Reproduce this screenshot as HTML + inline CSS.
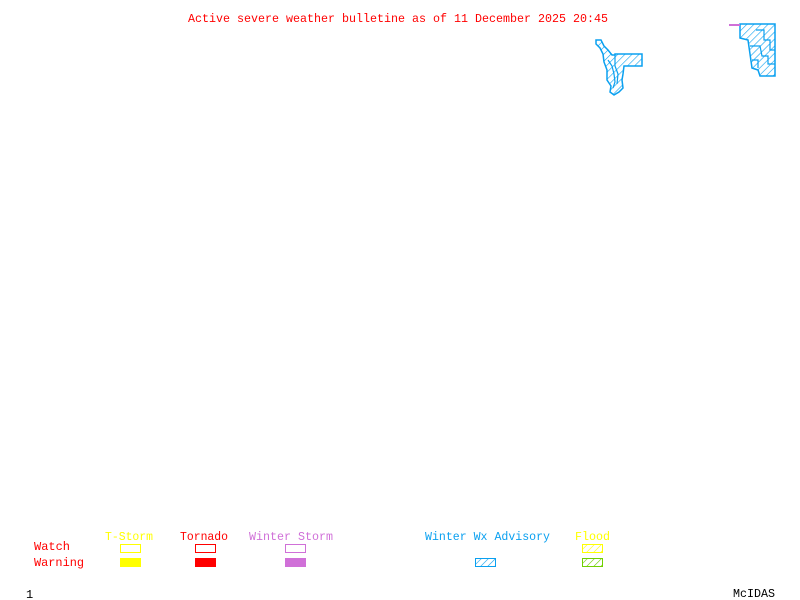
<!DOCTYPE html>
<html><head><meta charset="utf-8"><style>
html,body{margin:0;padding:0;background:#fff;width:800px;height:600px;overflow:hidden}
svg{display:block}
text{font-family:"Liberation Mono",monospace;font-size:12px}
</style></head><body>
<svg width="800" height="600" xmlns="http://www.w3.org/2000/svg">
<defs>
<pattern id="hb" width="5" height="5" patternUnits="userSpaceOnUse" patternTransform="rotate(45)"><rect width="5" height="5" fill="#fff"/><line x1="0" y1="0" x2="0" y2="5" stroke="#0aa0f0" stroke-width="1.2"/></pattern>
<pattern id="hy" width="5" height="5" patternUnits="userSpaceOnUse" patternTransform="rotate(45)"><rect width="5" height="5" fill="#fff"/><line x1="0" y1="0" x2="0" y2="5" stroke="#ffff00" stroke-width="1.2"/></pattern>
<pattern id="hg" width="5" height="5" patternUnits="userSpaceOnUse" patternTransform="rotate(45)"><rect width="5" height="5" fill="#fff"/><line x1="0" y1="0" x2="0" y2="5" stroke="#70d000" stroke-width="1.2"/></pattern>
</defs>
<text x="188" y="22" fill="#ff0000" textLength="420" lengthAdjust="spacingAndGlyphs">Active severe weather bulletine as of 11 December 2025 20:45</text>
<g fill="url(#hb)" stroke="#0aa0f0" stroke-width="1.5">
<polygon points="596,40 601,40 604,46 608,50 612,55 615,55 615,54 642,54 642,66 624,66 623,74 622,80 623,88 619,92 614,95 610,92 611,86 607,80 607,70 604,62 603,54 600,48 596,44"/>
<polygon points="740,24 775,24 775,76 760,76 758,70 752,68 750,54 748,40 740,38"/>
</g>
<g fill="none" stroke="#0aa0f0" stroke-width="1.2">
<path d="M608,60 L612,66 L614,74 L615,82 L613,88"/>
<path d="M615,55 L615,66 L618,74 L617,84"/>
<path d="M756,30 L764,30 L764,40 L770,40 L770,50 L775,50"/>
<path d="M750,46 L760,46 L762,56 L768,56 L768,64 L775,64"/>
<path d="M752,60 L758,60 L758,68"/>
</g>
<line x1="729" y1="25" x2="740" y2="25" stroke="#d070d8" stroke-width="2"/>
<text x="105" y="540" fill="#ffff00" textLength="48" lengthAdjust="spacingAndGlyphs">T-Storm</text>
<text x="180" y="540" fill="#ff0000" textLength="48" lengthAdjust="spacingAndGlyphs">Tornado</text>
<text x="249" y="540" fill="#d070d8" textLength="84" lengthAdjust="spacingAndGlyphs">Winter Storm</text>
<text x="425" y="540" fill="#0aa0f0" textLength="125" lengthAdjust="spacingAndGlyphs">Winter Wx Advisory</text>
<text x="575" y="540" fill="#ffff00" textLength="35" lengthAdjust="spacingAndGlyphs">Flood</text>
<text x="34" y="550" fill="#ff0000" textLength="36" lengthAdjust="spacingAndGlyphs">Watch</text>
<text x="34" y="566" fill="#ff0000" textLength="50" lengthAdjust="spacingAndGlyphs">Warning</text>
<rect x="120.5" y="544.5" width="20" height="8" fill="none" stroke="#ffff00"/>
<rect x="120" y="558" width="21" height="9" fill="#ffff00"/>
<rect x="195.5" y="544.5" width="20" height="8" fill="none" stroke="#ff0000"/>
<rect x="195" y="558" width="21" height="9" fill="#ff0000"/>
<rect x="285.5" y="544.5" width="20" height="8" fill="none" stroke="#d070d8"/>
<rect x="285" y="558" width="21" height="9" fill="#d070d8"/>
<rect x="475.5" y="558.5" width="20" height="8" fill="url(#hb)" stroke="#0aa0f0"/>
<rect x="582.5" y="544.5" width="20" height="8" fill="url(#hy)" stroke="#ffff00"/>
<rect x="582.5" y="558.5" width="20" height="8" fill="url(#hg)" stroke="#70d000"/>
<text x="26" y="598" fill="#000">1</text>
<text x="733" y="597" fill="#000" textLength="42" lengthAdjust="spacingAndGlyphs">McIDAS</text>
</svg>
</body></html>
